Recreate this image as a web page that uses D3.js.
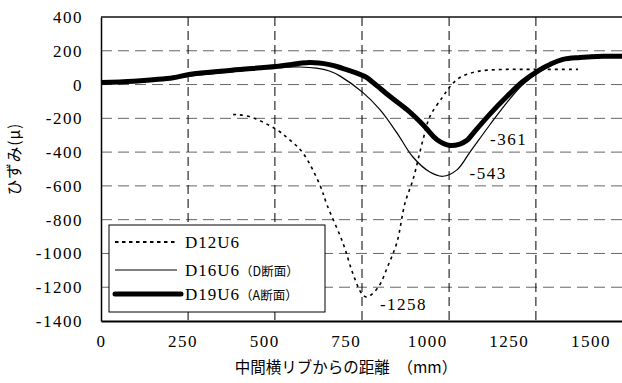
<!DOCTYPE html>
<html>
<head>
<meta charset="utf-8">
<script src="https://cdn.jsdelivr.net/npm/d3@7"></script>
<style>
  body { margin: 0; background: #fff; }
  svg { display: block; }
</style>
</head>
<body>
<div id="container"></div>
<script>
// distance from middle cross rib (mm) and strain (μ)
const d12Dist = [405, 420, 466, 539, 580, 619, 671, 693, 742, 772, 800, 815, 849, 880, 907, 932, 956, 987, 1008, 1048, 1070, 1100, 1152, 1223, 1300, 1462];
const d12Strain = [-178, -178, -197, -268, -330, -405, -595, -714, -940, -1119, -1240, -1258, -1202, -1071, -935, -700, -565, -327, -190, -71, -12, 42, 77, 89, 90, 90];

const d16Dist = [0, 100, 221, 270, 400, 536, 610, 660, 700, 733, 803, 855, 907, 956, 1008, 1048, 1091, 1131, 1192, 1244, 1293, 1346, 1416, 1468, 1540, 1600];
const d16Strain = [5, 15, 35, 50, 75, 100, 104, 97, 80, 50, -48, -149, -286, -429, -518, -543, -505, -400, -238, -107, 0, 77, 145, 158, 163, 165];

const d19Dist = [0, 100, 221, 270, 400, 536, 640, 700, 733, 809, 834, 886, 938, 987, 1030, 1070, 1100, 1122, 1140, 1192, 1244, 1293, 1346, 1376, 1416, 1468, 1540, 1600];
const d19Strain = [12, 20, 40, 60, 85, 107, 130, 118, 101, 48, 12, -71, -149, -238, -327, -361, -352, -330, -290, -175, -71, 18, 89, 119, 149, 160, 167, 167];

const xTicks = [0, 250, 500, 750, 1000, 1250, 1500];
const yTicks = [-1400, -1200, -1000, -800, -600, -400, -200, 0, 200, 400];
const xGrid = [267, 533, 800, 1067, 1333];
const yGrid = [-1200, -1000, -800, -600, -400, -200, 0, 200];

const seriesNames = ['D12U6', 'D16U6', 'D19U6'];
const seriesNotes = ['', '（D断面）', '（A断面）'];
const peakDist = [815, 1050, 1070];
const peakStrain = [-1258, -543, -361];

const w = 622;
const h = 383;
const plotLeft = 101, plotRight = 623, plotTop = 17, plotBottom = 321;
const serifFont = 'Liberation Serif';
const jpFont = 'Noto Sans CJK JP';

const viz = d3.select('#container').append('svg')
    .attr('width', w)
    .attr('height', h)
    .style('background', '#fff');

const xScale = d3.scaleLinear().domain([0, 1600]).range([plotLeft, plotRight]);
const yScale = d3.scaleLinear().domain([-1400, 400]).range([plotBottom, plotTop]);

// grid
viz.append('g').selectAll('line').data(yGrid).enter().append('line')
    .attr('x1', plotLeft).attr('x2', w)
    .attr('y1', d => yScale(d)).attr('y2', d => yScale(d))
    .attr('stroke', '#666').attr('stroke-width', 1)
    .attr('stroke-dasharray', '11,6');

viz.append('g').selectAll('line').data(xGrid).enter().append('line')
    .attr('x1', d => xScale(d)).attr('x2', d => xScale(d))
    .attr('y1', plotTop).attr('y2', plotBottom)
    .attr('stroke', '#000').attr('stroke-width', 1)
    .attr('stroke-dasharray', '9,5');

// axes
const yAxis = d3.axisLeft(yScale).tickValues(yTicks).tickSize(0).tickPadding(18)
    .tickFormat(d => String(d));
const yAxisGroup = viz.append('g').attr('transform', 'translate(' + plotLeft + ',0)').call(yAxis)
    .attr('font-family', serifFont).attr('font-size', 17);
yAxisGroup.select('.domain').attr('stroke', '#000').attr('stroke-width', 1.5);
yAxisGroup.selectAll('text').attr('letter-spacing', 1.5).attr('fill', '#000');

const xAxis = d3.axisBottom(xScale).tickValues(xTicks).tickSize(0).tickPadding(14)
    .tickFormat(d => String(d));
const xAxisGroup = viz.append('g').attr('transform', 'translate(0,' + plotBottom + ')').call(xAxis)
    .attr('font-family', serifFont).attr('font-size', 17);
xAxisGroup.select('.domain').attr('stroke', '#000').attr('stroke-width', 2);
xAxisGroup.selectAll('text').attr('letter-spacing', 1.5).attr('fill', '#000');

viz.append('line')
    .attr('x1', plotLeft).attr('x2', w).attr('y1', plotTop).attr('y2', plotTop)
    .attr('stroke', '#111').attr('stroke-width', 1.5);

// series
const lineMaker = d3.line()
    .x(d => xScale(d[0]))
    .y(d => yScale(d[1]))
    .curve(d3.curveCatmullRom.alpha(0.5));

const series = [
    d3.zip(d12Dist, d12Strain),
    d3.zip(d16Dist, d16Strain),
    d3.zip(d19Dist, d19Strain)
];
const widths = [1.6, 1.2, 5];
const dashes = ['3,4', null, null];

viz.selectAll('.series').data(series).enter()
    .append('path')
    .attr('class', 'series')
    .attr('d', lineMaker)
    .attr('fill', 'none')
    .attr('stroke', '#000')
    .attr('stroke-width', (d, i) => widths[i])
    .attr('stroke-dasharray', (d, i) => dashes[i])
    .attr('stroke-linejoin', 'round');

// peak labels
const labelOffset = [[13, 7], [26, -3], [40, -6]];
viz.selectAll('.peak').data(peakStrain).enter()
    .append('text')
    .attr('class', 'peak')
    .attr('x', (d, i) => xScale(peakDist[i]) + labelOffset[i][0])
    .attr('y', (d, i) => yScale(d) + labelOffset[i][1])
    .attr('dy', '0.35em')
    .attr('font-family', serifFont)
    .attr('font-size', 17)
    .attr('letter-spacing', 1.5)
    .text(d => d);

// legend
const legend = viz.append('g');
legend.append('rect')
    .attr('x', 109).attr('y', 225).attr('width', 216).attr('height', 87)
    .attr('fill', '#fff').attr('stroke', '#000').attr('stroke-width', 1);

const rowY = [242, 270, 294];
seriesNames.forEach((name, i) => {
    legend.append('line')
        .attr('x1', 115).attr('x2', i === 2 ? 181 : 177)
        .attr('y1', rowY[i]).attr('y2', rowY[i])
        .attr('stroke', '#000')
        .attr('stroke-width', i === 0 ? 2 : widths[i])
        .attr('stroke-linecap', i === 2 ? 'round' : 'butt')
        .attr('stroke-dasharray', i === 0 ? '3.5,3.5' : null);
    const t = legend.append('text')
        .attr('x', 185).attr('y', rowY[i]).attr('dy', '0.35em')
        .attr('font-family', serifFont)
        .attr('font-size', 17).attr('letter-spacing', 1);
    t.append('tspan').text(name);
    if (seriesNotes[i]) {
        t.append('tspan').attr('font-family', jpFont).attr('font-size', 12.5)
            .attr('letter-spacing', 0).text(seriesNotes[i]);
    }
});

// axis titles
viz.append('text')
    .attr('x', 346).attr('y', 368).attr('dy', '0.35em')
    .attr('text-anchor', 'middle')
    .attr('font-family', jpFont).attr('font-size', 15.5)
    .text('中間横リブからの距離　（mm）');

viz.append('text')
    .attr('transform', 'translate(15,159) rotate(-90)')
    .attr('dy', '0.35em')
    .attr('text-anchor', 'middle')
    .attr('font-family', jpFont).attr('font-size', 15.5)
    .attr('letter-spacing', 1)
    .text('ひずみ(μ)');
</script>
</body>
</html>
